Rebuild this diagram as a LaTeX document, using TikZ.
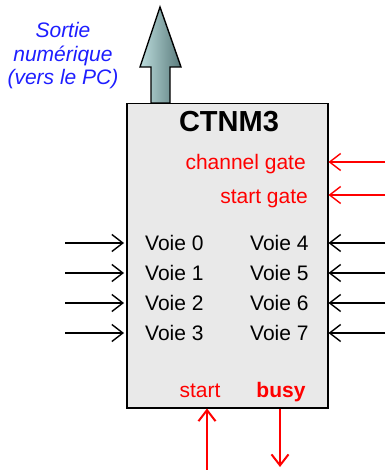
\documentclass[tikz,border=0pt]{standalone}
\usepackage{fontspec}
\setmainfont{Liberation Sans}
\usetikzlibrary{positioning, arrows.meta}
\definecolor{boxgray}{HTML}{E9E9E9}
\definecolor{pcblue}{HTML}{1E1EFF}
\definecolor{outlight}{HTML}{BCDCDC}
\definecolor{outdark}{HTML}{5A7B7C}
\tikzset{x=1pt, y=-1pt, node distance=30pt,
  block/.style={draw, line width=1.5pt, fill=boxgray, inner sep=0pt},
  title/.style={font=\fontsize{29}{32}\selectfont\bfseries, inner sep=0pt},
  voie/.style={font=\fontsize{21}{24}\selectfont, inner sep=0pt, anchor=west},
  sig/.style={font=\fontsize{21}{24}\selectfont, text=red, inner sep=0pt},
  note/.style={font=\fontsize{21}{23.5}\selectfont\itshape, text=pcblue, align=center, inner sep=0pt},
  wire/.style={draw, line width=1.4pt, -{Straight Barb[length=11pt,width=17pt]}},
  redwire/.style={wire, red},
  bigwire/.style={wire, red, line width=2pt},
  sortie/.style={draw, line width=1.4pt, left color=outlight, right color=outdark}}
\begin{document}
\begin{tikzpicture}
\useasboundingbox (0,0) rectangle (385,470);
% boitier
\node[block, minimum width=201pt, minimum height=304pt, anchor=north west] (ctnm) at (126,103) {};
\node[title] (name) at (229,122) {CTNM3};
% sortie numerique
\draw[sortie] (151,103) -- (151,67) -- (140,67) -- (160,7) -- (181,67) -- (170,67) -- (170,103) -- cycle;
\node[note] (pc) at (63,56) {Sortie\\numérique\\(vers le PC)};
% gates
\node[sig, anchor=base east] (cg) at (306,170) {channel gate};
\node[sig, anchor=base east] (sg) at (308,204) {start gate};
\coordinate (cgin) at (385,162);
\coordinate (sgin) at (385,195);
\draw[redwire] (cgin) -- (ctnm.east |- cgin);
\draw[redwire] (sgin) -- (ctnm.east |- sgin);
% voies
\foreach \i in {0,...,3} {
  \node[voie] (v\i) at (145,243+30*\i) {Voie \i};
  \coordinate (in\i) at (65,243+30*\i);
  \draw[wire, shorten >=2pt] (in\i) -- (ctnm.west |- in\i);
}
\foreach \i/\j in {4/0,5/1,6/2,7/3} {
  \node[voie] (v\i) at (250,243+30*\j) {Voie \i};
  \coordinate (in\i) at (385,243+30*\j);
  \draw[wire] (in\i) -- (ctnm.east |- in\i);
}
% start / busy
\node[sig, anchor=base] (st) at (200,397) {start};
\node[sig, anchor=base, font=\fontsize{21}{24}\selectfont\bfseries] (bs) at (281,397) {busy};
\coordinate (stin) at (207,470);
\coordinate (bsout) at (280,467);
\draw[bigwire] (stin) -- (ctnm.south -| stin);
\draw[bigwire] (ctnm.south -| bsout) -- (bsout);
\end{tikzpicture}
\end{document}
